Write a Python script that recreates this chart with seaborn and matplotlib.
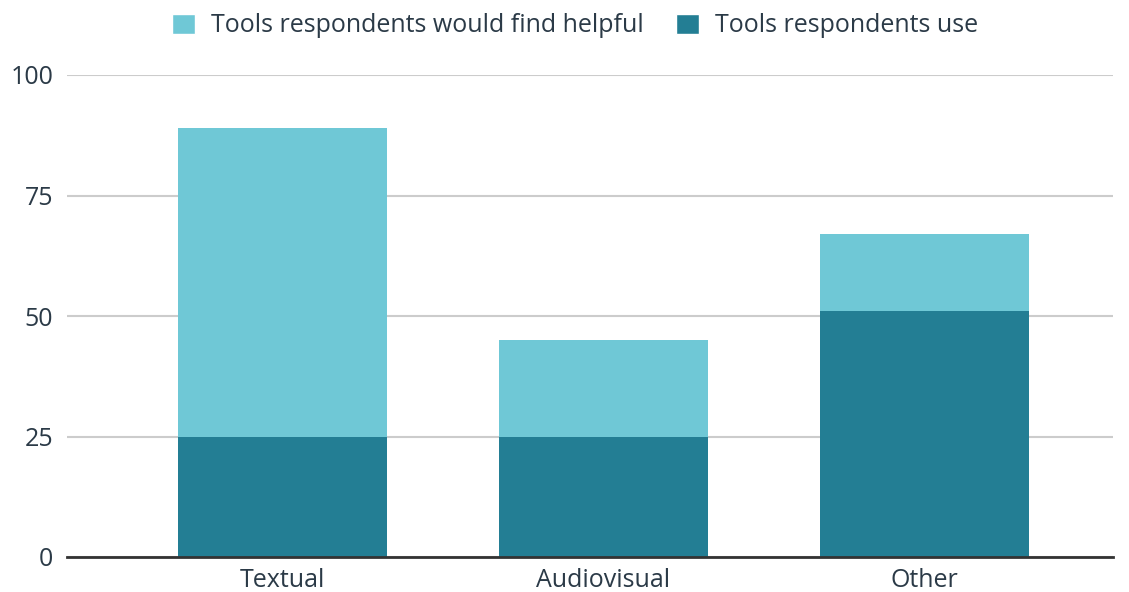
import matplotlib
matplotlib.use("Agg")
import matplotlib.pyplot as plt
import seaborn as sns
import pandas as pd
from matplotlib.patches import Patch

categories = ["Textual", "Audiovisual", "Other"]
helpful = [89, 45, 67]
use = [25, 25, 51]
yticks = [0, 25, 50, 75, 100]

light = "#6fc8d6"
dark = "#237e94"
text_color = "#2b3a47"

sns.set_theme(style="white")
plt.rcParams['font.family'] = ['Open Sans', 'DejaVu Sans']

fig = plt.figure(figsize=(11.29, 5.92), dpi=100)
ax = fig.add_axes([67/1129, 35/592, 1046/1129, 482/592])

df = pd.DataFrame({"cat": categories, "helpful": helpful, "use": use})
sns.barplot(data=df, x="cat", y="helpful", color=light, width=0.651, ax=ax,
            saturation=1, zorder=2, linewidth=0)
sns.barplot(data=df, x="cat", y="use", color=dark, width=0.651, ax=ax,
            saturation=1, zorder=3, linewidth=0)

ax.set_xlim(-0.671, 2.587)
ax.set_ylim(0, 100)
ax.set_yticks(yticks)
ax.set_yticklabels([str(t) for t in yticks])
ax.yaxis.grid(True, color="#cccccc", linewidth=1.5, zorder=0)
ax.set_axisbelow(True)
for s in ["top", "right", "left"]:
    ax.spines[s].set_visible(False)
ax.spines["bottom"].set_color("#333333")
ax.spines["bottom"].set_linewidth(2)
ax.spines["bottom"].set_zorder(5)
ax.set_xlabel("")
ax.set_ylabel("")
ax.tick_params(axis="both", length=0, labelsize=18, labelcolor=text_color)
ax.tick_params(axis="y", pad=10)
ax.tick_params(axis="x", pad=8)
for lab in ax.get_yticklabels():
    lab.set_clip_on(False)

handles = [Patch(facecolor=light, label="Tools respondents would find helpful"),
           Patch(facecolor=dark, label="Tools respondents use")]
leg = fig.legend(handles=handles, loc="center", bbox_to_anchor=(575/1129, 1 - 26/592),
                 ncol=2, frameon=False, fontsize=18, handlelength=0.9, handleheight=0.9,
                 handletextpad=0.65, columnspacing=1.3)
for t in leg.get_texts():
    t.set_color(text_color)

fig.savefig("out.png", dpi=100)
